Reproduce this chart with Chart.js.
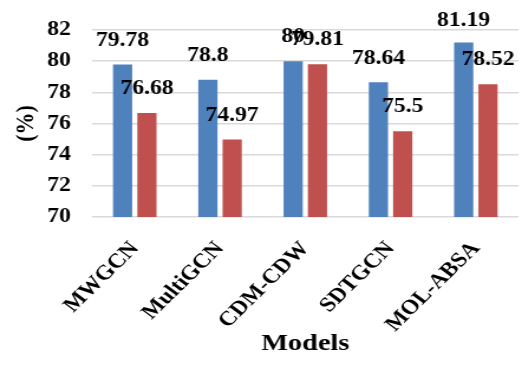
<!DOCTYPE html>
<html>
<head>
<meta charset="utf-8">
<script src="https://cdn.jsdelivr.net/npm/chart.js@4/dist/chart.umd.min.js"></script>
<style>
  html, body { margin: 0; padding: 0; background: #fff; overflow: hidden; }
  /* the figure is laid out narrow and widened horizontally */
  #wrap { position: absolute; left: 0; top: 0; width: 442px; height: 376px;
          transform: scaleX(1.181); transform-origin: 0 0; }
</style>
</head>
<body>
<div id="wrap"><canvas id="c"></canvas></div>
<script>
const models = ['MWGCN', 'MultiGCN', 'CDM-CDW', 'SDTGCN', 'MOL-ABSA'];
const accuracy = [79.78, 78.8, 80, 78.64, 81.19];
const macroF1 = [76.68, 74.97, 79.81, 75.5, 78.52];
const yMin = 70, yMax = 82, yStep = 2;

const SERIF = '"Liberation Serif", "Times New Roman", serif';

// prints each bar's value above it
const valueLabels = {
  id: 'valueLabels',
  afterDatasetsDraw(chart) {
    const ctx = chart.ctx;
    ctx.save();
    ctx.font = 'bold 20px ' + SERIF;
    ctx.fillStyle = '#000';
    ctx.textAlign = 'center';
    ctx.textBaseline = 'middle';
    chart.data.datasets.forEach((ds, i) => {
      chart.getDatasetMeta(i).data.forEach((bar, j) => {
        const y = Math.max(bar.y - 24, 21);
        ctx.fillText(String(ds.data[j]), bar.x, y);
      });
    });
    ctx.restore();
  }
};

new Chart(document.getElementById('c'), {
  type: 'bar',
  data: {
    labels: models,
    datasets: [
      { label: 'Acc', data: accuracy, backgroundColor: '#4F81BD' },
      { label: 'F1', data: macroF1, backgroundColor: '#C0504D' }
    ]
  },
  options: {
    responsive: true,
    maintainAspectRatio: false,
    animation: false,
    categoryPercentage: 0.57,
    barPercentage: 0.79,
    layout: { padding: { top: 28, right: 3, left: 0, bottom: 0 } },
    plugins: { legend: { display: false }, tooltip: { enabled: false } },
    scales: {
      x: {
        grid: { display: false },
        border: { display: false },
        ticks: {
          color: '#000',
          font: { family: SERIF, size: 20.5, weight: 'bold' },
          minRotation: 49, maxRotation: 49,
          padding: 12
        },
        title: {
          display: true, text: 'Models', color: '#000',
          font: { family: SERIF, size: 24, weight: 'bold' },
          padding: { top: 0, bottom: 18 }
        },
        afterFit(scale) { scale.height = 159; }
      },
      y: {
        min: yMin, max: yMax,
        grid: { color: '#d9d9d9', lineWidth: 1.5, drawTicks: false },
        border: { display: false },
        ticks: {
          stepSize: yStep, color: '#000', padding: 18,
          font: { family: SERIF, size: 20, weight: 'bold' }
        },
        title: {
          display: true, text: '(%)', color: '#000',
          font: { family: SERIF, size: 22, weight: 'bold' },
          padding: { top: 9, bottom: 0 }
        },
        afterFit(scale) { scale.width = 78; }
      }
    }
  },
  plugins: [valueLabels]
});
</script>
</body>
</html>
